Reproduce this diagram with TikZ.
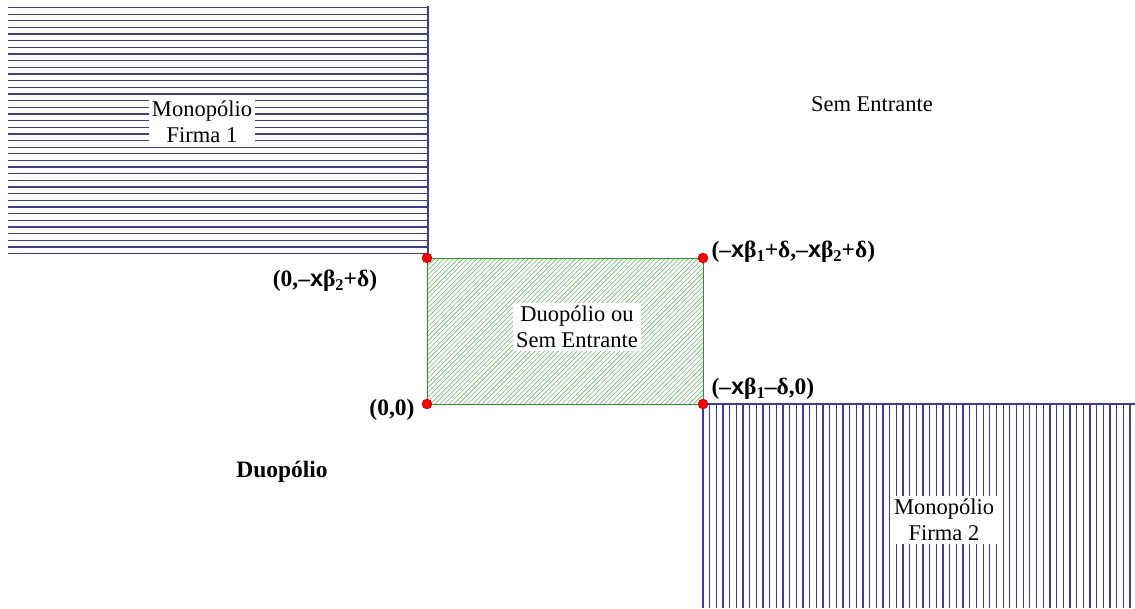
\documentclass[tikz,border=0pt]{standalone}
\usepackage{fontspec}
\setmainfont{Liberation Serif}
\newfontfamily\xsans{Liberation Sans}
\definecolor{hblue}{RGB}{60,60,160}
\definecolor{hgreen}{RGB}{110,185,110}
\definecolor{bgreen}{RGB}{40,150,40}
\newcommand{\xx}{{\xsans\bfseries x}}
\newcommand{\sbb}[1]{\raisebox{-0.35ex}{\fontsize{16.5}{16.5}\selectfont #1}}
\begin{document}
\begin{tikzpicture}[x=1pt,y=-1pt,
  hline/.style={hblue,line width=1.3pt},
  gline/.style={hgreen,line width=0.6pt},
  dot/.style={circle,fill=red,draw=red!70!black,inner sep=0pt,minimum size=10pt},
  region/.style={fill=white,inner sep=3pt,align=center,font=\fontsize{22.5}{26}\selectfont},
  plain/.style={align=center,font=\fontsize{22.5}{26}\selectfont},
  blab/.style={font=\fontsize{23.5}{27}\selectfont\bfseries}]
\useasboundingbox (0,0) rectangle (1135,608);
% top-left region
\foreach \k in {0,...,37} {
  \draw[hline] (8,{7.5+\k*6.65}) -- (428,{7.5+\k*6.65});
}
\draw[hline] (428,6) -- (428,258);
% bottom-right region
\foreach \k in {0,...,64} {
  \draw[hline] ({703+\k*6.67},404) -- ({703+\k*6.67},608);
}
\draw[hline] (703,404) -- (1135,404);
% green rectangle
\begin{scope}
\clip (427,258) rectangle (703,404);
\foreach \k in {0,...,92} {
  \draw[gline] ({280+\k*4.7},404) -- ({280+\k*4.7+146},258);
}
\end{scope}
\draw[bgreen,line width=1pt] (427,258) rectangle (703,404);
% corner points
\node[dot] (p00) at (427,404) {};
\node[dot] (p01) at (427,258) {};
\node[dot] (p11) at (703,258) {};
\node[dot] (p10) at (703,404) {};
% region labels
\node[region] (m1) at (202,122) {Monopólio\\Firma 1};
\node[region] (dse) at (577,327) {Duopólio ou\\Sem Entrante};
\node[region] (m2) at (944,520) {Monopólio\\Firma 2};
\node[plain] (se) at (872,104) {Sem Entrante};
\node[blab] (duo) at (282,472) {Duopólio};
% point labels
\node[blab,anchor=east] (l00) at (418,410) {(0,0)};
\node[blab] (l01) at (325,281) {(0,–\xx β\sbb{2}+δ)};
\node[blab,anchor=west] (l11) at (708,252) {(–\xx β\sbb{1}+δ,–\xx β\sbb{2}+δ)};
\node[blab,anchor=west] (l10) at (708,389) {(–\xx β\sbb{1}–δ,0)};
\end{tikzpicture}
\end{document}
